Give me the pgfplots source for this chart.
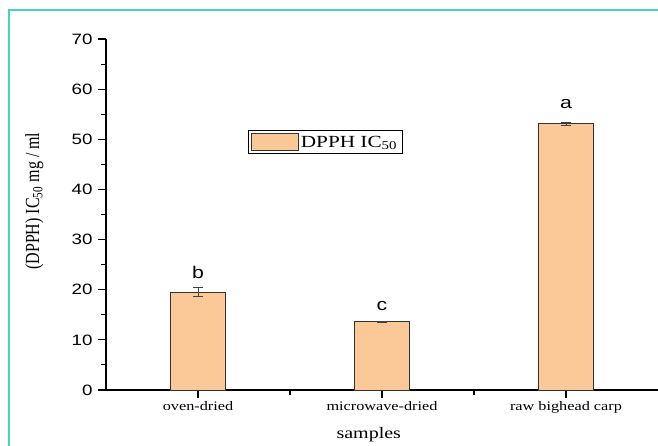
\documentclass[border=0pt]{standalone}
\usepackage{pgfplots}
\pgfplotsset{compat=1.18}
\usepackage{pgfplotstable}
\usepackage{fontspec}
\setmainfont{Liberation Serif}
\setsansfont{Liberation Sans}
\definecolor{barfill}{RGB}{251,201,151}
\definecolor{framec}{RGB}{72,209,192}
\pgfplotstableread{
x y err
0 19.5 0.9
1 13.6 0.1
2 53.1 0.3
}\datatable

\begin{document}
\begin{tikzpicture}[x=1pt,y=1pt]
\path[use as bounding box] (0,0) rectangle (658,445);
\draw[framec, line width=2pt] (9,-5) -- (9,435) -- (665,435);
\begin{axis}[
  at={(106pt,55pt)}, anchor=south west,
  scale only axis, width=552pt, height=351pt,
  xmin=-0.5, xmax=2.5, ymin=0, ymax=70,
  axis x line=bottom, axis y line=left,
  axis line style={line width=1.3pt, -, black},
  xtick={0,1,2},
  xticklabels={\scalebox{1.25}[1]{oven-dried}, \scalebox{1.25}[1]{microwave-dried}, \scalebox{1.25}[1]{raw bighead carp}},
  minor xtick={0.5,1.5},
  ytick={0,10,...,70}, minor ytick={5,15,...,65},
  tick align=outside,
  major tick length=8pt, minor tick length=5pt,
  tick style={line width=1.1pt, black},
  /pgf/number format/assume math mode=true,
  yticklabel={\scalebox{1.25}[1]{\pgfmathprintnumber{\tick}}},
  yticklabel style={font=\sffamily\fontsize{15}{15}\selectfont, xshift=-2pt},
  xticklabel style={font=\fontsize{13}{13}\selectfont},
  xlabel={\scalebox{1.25}[1]{samples}},
  xlabel style={font=\fontsize{16}{16}\selectfont, at={(axis description cs:0.476,-0.128)}, anchor=center},
  ylabel={\scalebox{1}[1.25]{(DPPH) IC\textsubscript{50} mg / ml}},
  ylabel style={font=\fontsize{16}{16}\selectfont, at={(axis description cs:-0.13,0.538)}, anchor=center},
  legend style={at={(0.397,0.707)}, anchor=center, draw=black, line width=0.8pt,
    font=\fontsize{17}{17}\selectfont, inner xsep=3pt, inner ysep=3pt},
  legend image code/.code={\draw[#1, line width=0.8pt] (0pt,-8pt) rectangle (47pt,9pt);},
  clip=false,
]
\addplot[ybar, bar width=55pt, fill=barfill, draw=black!80, line width=1pt,
  error bars/.cd, y dir=both, y explicit,
  error bar style={line width=1pt, black!75},
  error mark options={rotate=90, mark size=5pt, line width=1pt, black!75}]
  table[x=x, y=y, y error=err] {\datatable};
\addlegendentry{\scalebox{1.25}[1]{DPPH IC\textsubscript{50}}}
\node[font=\sffamily\fontsize{17}{17}\selectfont] at (axis cs:0,23.4) {\scalebox{1.25}[1]{b}};
\node[font=\sffamily\fontsize{17}{17}\selectfont] at (axis cs:1,16.8) {\scalebox{1.25}[1]{c}};
\node[font=\sffamily\fontsize{17}{17}\selectfont] at (axis cs:2,57.0) {\scalebox{1.25}[1]{a}};
\end{axis}
\end{tikzpicture}
\end{document}
